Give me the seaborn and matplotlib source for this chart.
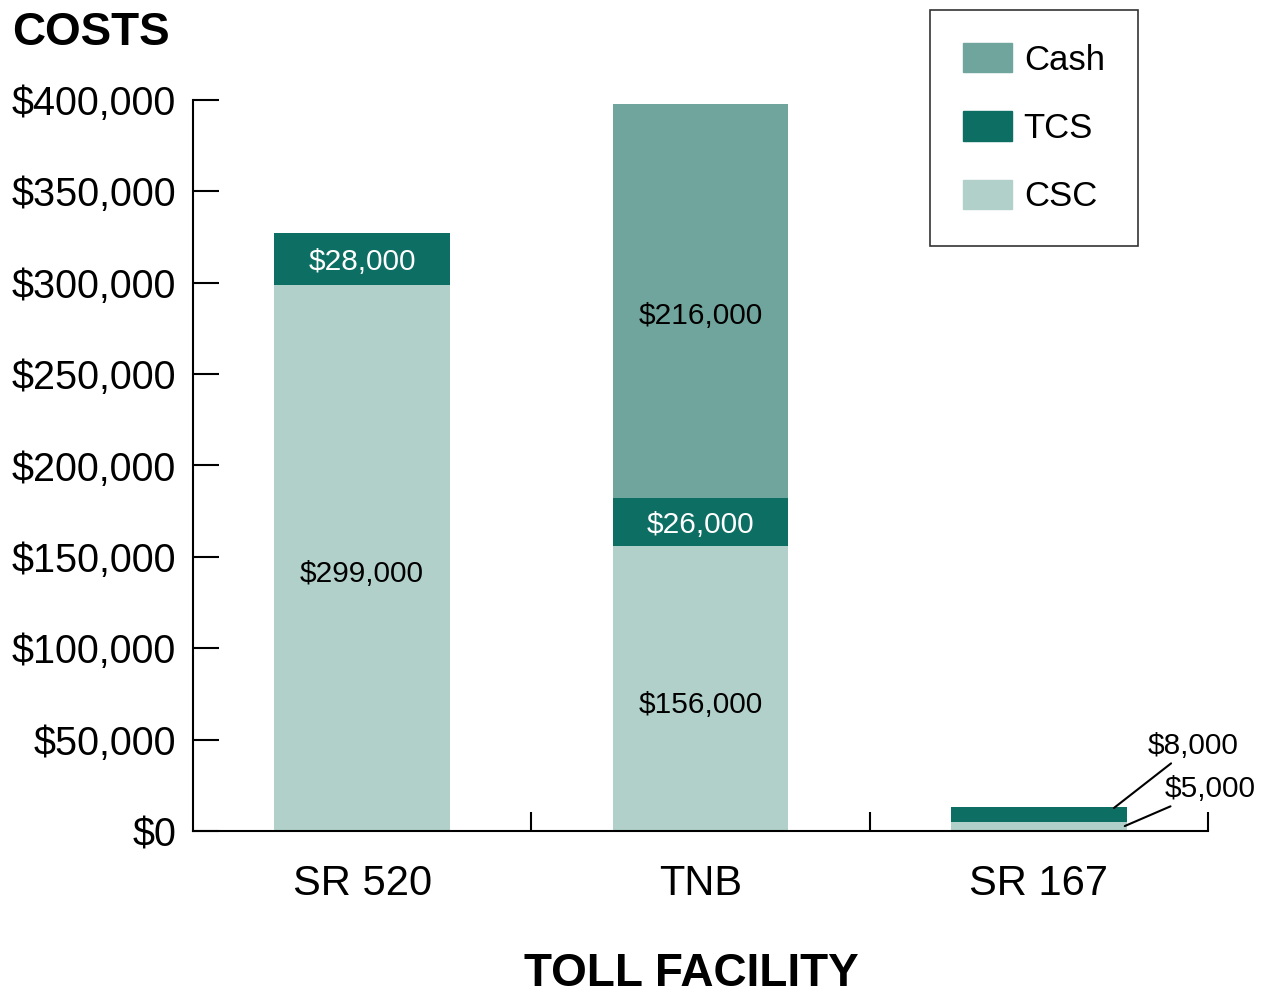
import matplotlib
matplotlib.use("Agg")
import matplotlib.pyplot as plt
import matplotlib.patches as mpatches
import seaborn as sns

# Data
facilities = ["SR 520", "TNB", "SR 167"]
csc = [299000, 156000, 5000]
tcs = [28000, 26000, 8000]
cash = [0, 216000, 0]
y_ticks = [0, 50000, 100000, 150000, 200000, 250000, 300000, 350000, 400000]

col_cash = "#6fa59c"
col_tcs = "#0d6e63"
col_csc = "#b1d0ca"

sns.set_style("white")
plt.rcParams["font.family"] = ["Liberation Sans", "DejaVu Sans"]
plt.rcParams["text.color"] = "black"
plt.rcParams["xtick.color"] = "black"
plt.rcParams["ytick.color"] = "black"

fig = plt.figure(figsize=(12.62, 9.96), dpi=100)
ax = fig.add_axes([193 / 1262, 1 - 831 / 996, (1208 - 193) / 1262, (831 - 100) / 996])

# stacked bars: draw cumulative totals back to front
tot_tcs = [a + b for a, b in zip(csc, tcs)]
tot_all = [a + b for a, b in zip(tot_tcs, cash)]
for vals, col in [(tot_all, col_cash), (tot_tcs, col_tcs), (csc, col_csc)]:
    sns.barplot(x=facilities, y=vals, color=col, width=0.52, saturation=1,
                linewidth=0, ax=ax)

ax.set_xlim(-0.5, 2.5)
ax.set_ylim(0, 400000)
ax.set_yticks(y_ticks)
ax.set_yticklabels(["${:,}".format(v) for v in y_ticks], fontsize=28.5)
ax.tick_params(axis="y", left=True, direction="in", length=19, width=1.5, pad=12)
ax.tick_params(axis="x", which="major", length=0, pad=24, labelsize=30)
ax.set_xticks([0.5, 1.5, 2.5], minor=True)
ax.tick_params(axis="x", which="minor", bottom=True, direction="in", length=14, width=1.5)
for s in ["top", "right"]:
    ax.spines[s].set_visible(False)
for s in ["left", "bottom"]:
    ax.spines[s].set_linewidth(1.5)
    ax.spines[s].set_color("black")

# segment labels
lab_fs = 21.5
for i in range(2):
    ax.text(i, csc[i] / 2 - 9000, "${:,}".format(csc[i]), ha="center", va="center", fontsize=lab_fs)
    ax.text(i, csc[i] + tcs[i] / 2 - 1500, "${:,}".format(tcs[i]), ha="center", va="center",
            fontsize=lab_fs, color="white")
    if cash[i] > 0:
        ax.text(i, tot_tcs[i] + cash[i] / 2 - 8000, "${:,}".format(cash[i]), ha="center",
                va="center", fontsize=lab_fs)

# small SR 167 segments with leader lines
ax.annotate("${:,}".format(tcs[2]), xy=(2.222, 12600), xytext=(2.322, 38800),
            ha="left", va="bottom", fontsize=lab_fs,
            arrowprops=dict(arrowstyle="-", color="black", lw=1.5, shrinkA=0, shrinkB=0))
ax.annotate("${:,}".format(csc[2]), xy=(2.254, 2700), xytext=(2.373, 15300),
            ha="left", va="bottom", fontsize=lab_fs,
            arrowprops=dict(arrowstyle="-", color="black", lw=1.5, shrinkA=0, shrinkB=0))

ax.set_xlabel("")
ax.set_ylabel("")
fig.text(12 / 1262, 1 - 45 / 996, "COSTS", fontsize=33, fontweight="bold",
         ha="left", va="baseline")
fig.text(691 / 1262, 0.0, "TOLL FACILITY", fontsize=33, fontweight="bold",
         ha="center", va="bottom")

handles = [mpatches.Patch(color=col_cash, label="Cash"),
           mpatches.Patch(color=col_tcs, label="TCS"),
           mpatches.Patch(color=col_csc, label="CSC")]
leg = fig.legend(handles=handles, loc="upper left", bbox_to_anchor=(930 / 1262, 1 - 10 / 996),
                 bbox_transform=fig.transFigure, fontsize=25, frameon=True, fancybox=False,
                 handlelength=1.4, handleheight=0.92, labelspacing=1.0, borderpad=0.95,
                 handletextpad=0.35, borderaxespad=0)
leg.get_frame().set_edgecolor("black")
leg.get_frame().set_linewidth(1.2)

fig.savefig("out.png", dpi=100)
